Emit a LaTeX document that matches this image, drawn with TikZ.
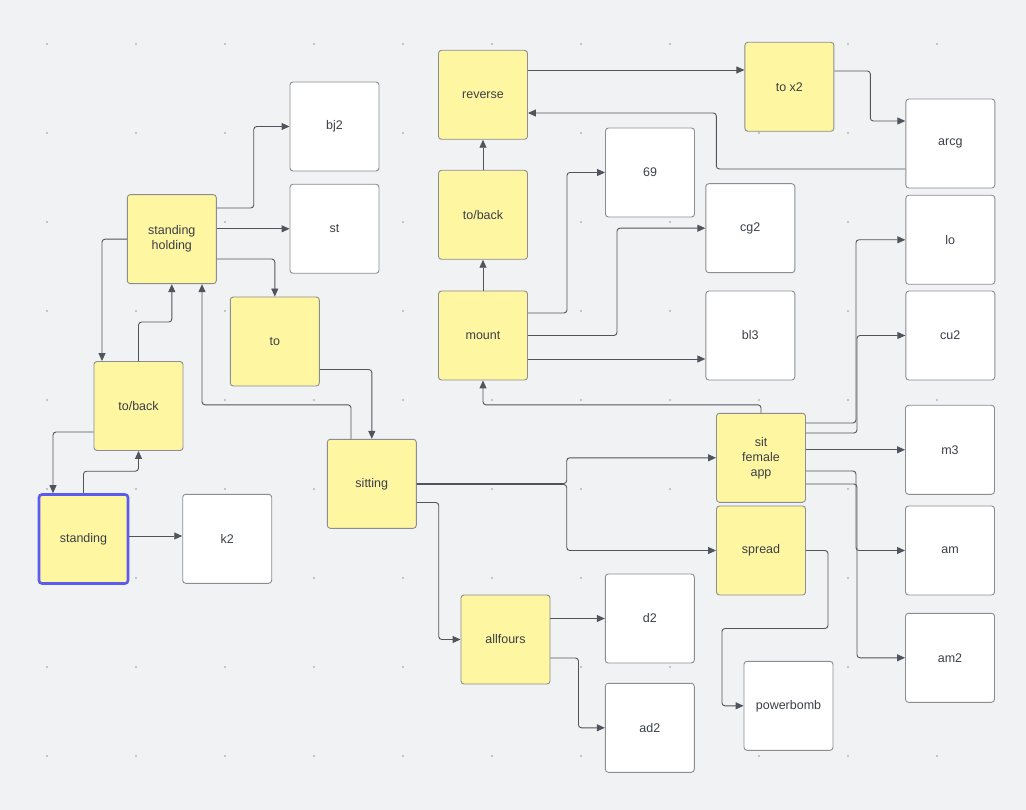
\documentclass[tikz,border=0pt]{standalone}
\usepackage{fontspec}
\setmainfont{Liberation Sans}
\usetikzlibrary{arrows.meta,calc}
\definecolor{canvas}{HTML}{F1F2F4}
\definecolor{dotgray}{HTML}{B4B7BC}
\definecolor{boxline}{HTML}{8A8D92}
\definecolor{wire}{HTML}{50555D}
\definecolor{txt}{HTML}{3A3F47}
\definecolor{stickyyellow}{HTML}{FFF6A1}
\definecolor{pick}{HTML}{5B5BF2}

\begin{document}
\begin{tikzpicture}[x=1pt,y=-1pt,
  block/.style={draw=boxline,line width=0.9pt,rounded corners=3pt,minimum width=89pt,minimum height=89pt,
    inner sep=0pt,align=center,text=txt,font=\fontsize{12.5}{15}\selectfont},
  yel/.style={block,fill=stickyyellow},
  wht/.style={block,fill=white},
  link/.style={draw=wire,line width=0.9pt,rounded corners=3pt,-{Triangle[length=8pt,width=7pt]}}]

  \fill[canvas] (0,0) rectangle (1026,810);
  \useasboundingbox (0,0) rectangle (1026,810);
  \foreach \i in {0,...,10}
    \foreach \j in {0,...,8}
      \fill[dotgray] ({47+89*\i},{44+89*\j}) circle (1.2);

  \node[yel,draw=pick,line width=2.6pt] (standing) at (83.5,539) {standing};
  \node[wht] (k2) at (227.2,538.8) {k2};
  \node[yel] (toback) at (138.5,406) {to/back};
  \node[yel] (holding) at (171.8,239.2) {standing\\holding};
  \node[wht] (bj2) at (334.5,126.5) {bj2};
  \node[wht] (st) at (334.5,228.8) {st};
  \node[yel] (to) at (274.8,341.5) {to};
  \node[yel] (sitting) at (371.8,483.8) {sitting};

  \node[yel] (reverse) at (483,94.8) {reverse};
  \node[yel] (tobacktop) at (483,214.8) {to/back};
  \node[yel] (mount) at (483,335.5) {mount};
  \node[wht] (sixnine) at (650,172.5) {69};
  \node[wht] (cg2) at (750.3,228.2) {cg2};
  \node[wht] (bl3) at (750.3,335.5) {bl3};
  \node[yel] (tox2) at (789.4,86.8) {to x2};
  \node[wht] (arcg) at (950.3,143.5) {arcg};
  \node[wht] (lo) at (950.3,239.8) {lo};
  \node[wht] (cu2) at (950.3,335.5) {cu2};

  \node[yel] (sfa) at (761,457.8) {sit\\female\\app};
  \node[yel] (spread) at (761,550.5) {spread};
  \node[wht] (m3) at (950,449.8) {m3};
  \node[wht] (am) at (950,550.5) {am};
  \node[wht] (am2) at (950,657.8) {am2};
  \node[yel] (allfours) at (505.5,639.5) {allfours};
  \node[wht] (d2) at (649.8,618.5) {d2};
  \node[wht] (ad2) at (649.8,727.8) {ad2};
  \node[wht] (powerbomb) at (788.5,705.8) {powerbomb};

  \draw[link] (standing.east |- 0,536) -- (k2.west |- 0,536);
  \draw[link] (standing.north) -- ++(0,-22) -| (toback.south);
  \draw[link] (toback.west |- 0,432) -| (standing.north -| 53,0);
  \draw[link] (toback.north) -- ++(0,-39) -| (holding.south);
  \draw[link] (holding.west) -| (toback.north -| 102,0);
  \draw[link] (holding.east |- 0,208) -- ++(37,0) |- (bj2.west);
  \draw[link] (holding.east |- st.west) -- (st.west);
  \draw[link] (holding.east |- 0,259) -| (to.north);
  \draw[link] (to.east |- 0,369.5) -| (sitting.north);
  \draw[link] (sitting.north -| 351,0) -- ++(0,-34) -| (holding.south -| 202,0);

  \draw[link] (sitting.east |- 0,483.5) -- ++(150,0) |- (sfa.west);
  \draw[link] (sitting.east |- 0,484.5) -- ++(150,0) |- (spread.west);
  \draw[link] (sitting.east |- 0,502.5) -- ++(22,0) |- (allfours.west);
  \draw[link] (allfours.east |- d2.west) -- (d2.west);
  \draw[link] (allfours.east |- 0,658) -- ++(28,0) |- (ad2.west);
  \draw[link] (spread.east) -- ++(22,0) -- ++(0,78) -- ++(-106,0) |- (powerbomb.west);

  \draw[link] (sfa.north) -- ++(0,-8) -| (mount.south);
  \draw[link] (sfa.east |- 0,423) -- ++(50,0) |- (lo.west);
  \draw[link] (sfa.east |- 0,433) -- ++(51,0) |- (cu2.west);
  \draw[link] (sfa.east |- m3.west) -- (m3.west);
  \draw[link] (sfa.east |- 0,471) -- ++(50,0) |- (am.west);
  \draw[link] (sfa.east |- 0,484) -- ++(51,0) |- (am2.west);

  \draw[link] (mount.north) -- (tobacktop.south);
  \draw[link] (tobacktop.north) -- (reverse.south);
  \draw[link] (mount.east |- 0,313) -- ++(39,0) |- (sixnine.west);
  \draw[link] (mount.east) -- ++(89,0) |- (cg2.west);
  \draw[link] (mount.east |- 0,359) -- (bl3.west |- 0,359);
  \draw[link] (reverse.east |- 0,70) -- (tox2.west |- 0,70);
  \draw[link] (tox2.east |- 0,71) -- ++(36,0) |- (arcg.west |- 0,121);
  \draw[link] (arcg.west |- 0,169) -- ++(-189,0) |- (reverse.east |- 0,113);
\end{tikzpicture}
\end{document}
